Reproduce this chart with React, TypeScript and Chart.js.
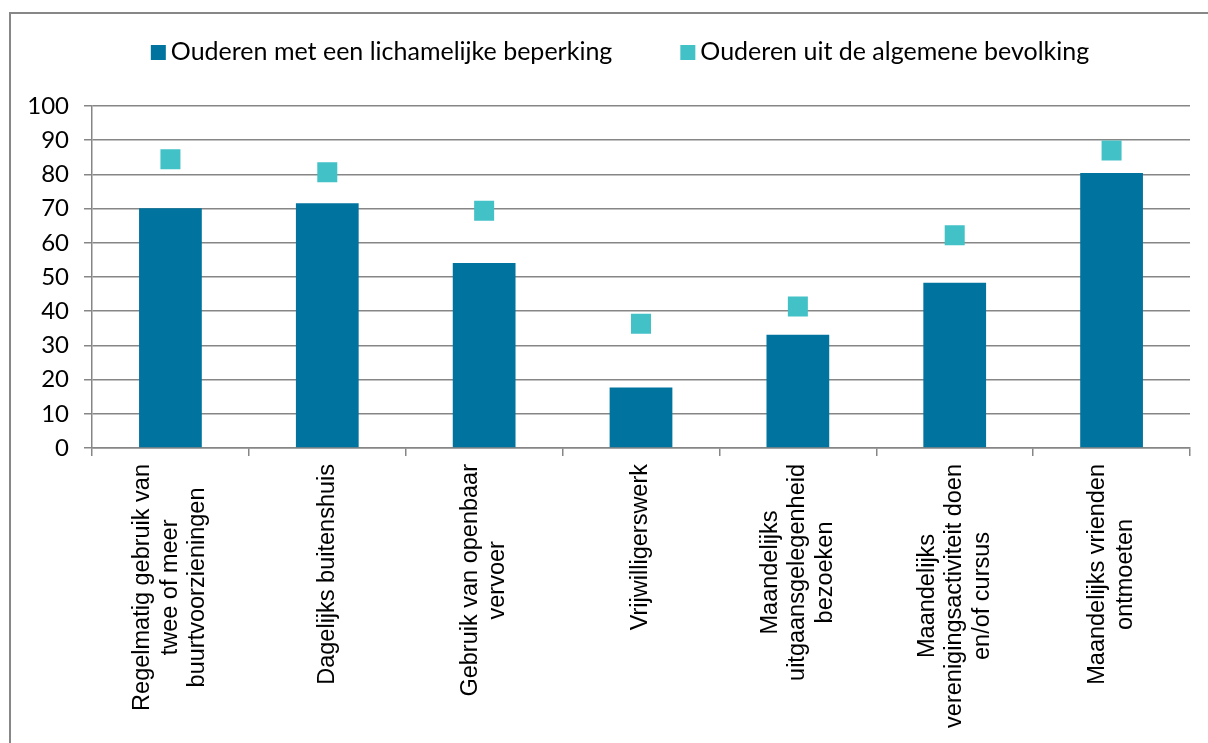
import React, { useEffect, useRef } from 'react';
import { Chart, registerables } from 'chart.js';

Chart.register(...registerables);

const categories: string[][] = [
  ['Regelmatig gebruik van', 'twee of meer', 'buurtvoorzieningen'],
  ['Dagelijks buitenshuis'],
  ['Gebruik van openbaar', 'vervoer'],
  ['Vrijwilligerswerk'],
  ['Maandelijks', 'uitgaansgelegenheid', 'bezoeken'],
  ['Maandelijks', 'verenigingsactiviteit doen', 'en/of cursus'],
  ['Maandelijks vrienden', 'ontmoeten'],
];

const seriesNames = ['Ouderen met een lichamelijke beperking', 'Ouderen uit de algemene bevolking'];

const physicalDisability = [70.1, 71.6, 54.1, 17.7, 33.1, 48.3, 80.4];
const generalPopulation = [84.4, 80.6, 69.4, 36.3, 41.4, 62.2, 87.0];

const yTickMin = 0;
const yTickMax = 100;
const yTickStep = 10;

const BAR_COLOR = '#00739F';
const POINT_COLOR = '#42C1C7';
const GRID_COLOR = '#868686';

const CANVAS_W = 1218;
const CANVAS_H = 729;

const legendPlugin = {
  id: 'customLegend',
  afterDraw(chart: any) {
    const ctx = chart.ctx as CanvasRenderingContext2D;
    ctx.save();
    ctx.font = '25px Lato, "Noto Sans", sans-serif';
    ctx.textAlign = 'left';
    ctx.textBaseline = 'alphabetic';
    const box = 15;
    const gap = 5;
    const itemGap = 68;
    const items = chart.data.datasets.map((d: any) => ({ label: d.label, color: d.backgroundColor }));
    const widths = items.map((it: any) => box + gap + ctx.measureText(it.label).width);
    const total = widths.reduce((a: number, b: number) => a + b, 0) + itemGap * (items.length - 1);
    let x = chart.width / 2 - total / 2;
    const baseline = 45.5;
    items.forEach((it: any, i: number) => {
      ctx.fillStyle = it.color;
      ctx.fillRect(x, 31, box, box);
      ctx.fillStyle = '#000';
      ctx.fillText(it.label, x + box + gap, baseline);
      x += widths[i] + itemGap;
    });
    ctx.restore();
  },
};

const xLabelPlugin = {
  id: 'xLabels',
  afterDraw(chart: any) {
    const ctx = chart.ctx as CanvasRenderingContext2D;
    const xs = chart.scales.x;
    ctx.save();
    ctx.font = '23.5px "Liberation Sans", Arial, sans-serif';
    ctx.fillStyle = '#000';
    ctx.textAlign = 'center';
    ctx.textBaseline = 'middle';
    const lineH = 27.5;
    categories.forEach((lines, i) => {
      const cx = xs.getPixelForTick(i);
      const maxW = Math.max(...lines.map((l) => ctx.measureText(l).width));
      const yc = xs.top + 16 + maxW / 2;
      lines.forEach((line, j) => {
        const lx = cx + (j - (lines.length - 1) / 2) * lineH;
        ctx.save();
        ctx.translate(lx, yc);
        ctx.rotate(-Math.PI / 2);
        ctx.fillText(line, 0, 0);
        ctx.restore();
      });
    });
    ctx.restore();
  },
};

export default function App() {
  const canvasRef = useRef<HTMLCanvasElement | null>(null);

  useEffect(() => {
    document.documentElement.style.overflow = 'hidden';
    document.body.style.overflow = 'hidden';
    if (!canvasRef.current) return;
    const chart = new Chart(canvasRef.current, {
      type: 'bar',
      data: {
        labels: categories.map((l) => l.join(' ')),
        datasets: [
          {
            type: 'bar',
            label: seriesNames[0],
            data: physicalDisability,
            backgroundColor: BAR_COLOR,
            borderWidth: 0,
            barPercentage: 0.4,
            categoryPercentage: 1,
            order: 2,
          } as any,
          {
            type: 'line',
            label: seriesNames[1],
            data: generalPopulation,
            showLine: false,
            pointStyle: 'rect',
            pointRadius: 14.14,
            pointHoverRadius: 14.14,
            backgroundColor: POINT_COLOR,
            borderColor: POINT_COLOR,
            pointBackgroundColor: POINT_COLOR,
            pointBorderWidth: 0,
            borderWidth: 0,
            order: 1,
          } as any,
        ],
      },
      options: {
        responsive: false,
        animation: false,
        layout: { padding: { top: 92, right: 39, left: 0, bottom: 0 } },
        plugins: {
          legend: { display: false },
          tooltip: { enabled: false },
        },
        scales: {
          x: {
            type: 'category',
            offset: true,
            grid: {
              offset: true,
              drawOnChartArea: false,
              drawTicks: true,
              tickLength: 8,
              color: GRID_COLOR,
              lineWidth: 1.5,
            },
            border: { display: true, color: GRID_COLOR, width: 1.5 },
            ticks: { display: false },
            afterFit: (s: any) => {
              s.height = CANVAS_H - 434;
            },
          },
          y: {
            min: yTickMin,
            max: yTickMax,
            ticks: {
              stepSize: yTickStep,
              padding: 15,
              color: '#000',
              font: { family: 'Lato, "Noto Sans", sans-serif', size: 24 },
            },
            grid: { color: GRID_COLOR, lineWidth: 1.5, tickLength: 8 },
            border: { display: true, color: GRID_COLOR, width: 1.5 },
            afterFit: (s: any) => {
              s.width = 81;
            },
          },
        },
      },
      plugins: [legendPlugin, xLabelPlugin],
    });
    return () => chart.destroy();
  }, []);

  return (
    <div
      style={{
        position: 'fixed',
        left: 9,
        top: 12,
        width: CANVAS_W,
        height: CANVAS_H + 10,
        border: '2px solid #878787',
        background: '#fff',
      }}
    >
      <canvas ref={canvasRef} width={CANVAS_W} height={CANVAS_H} style={{ display: 'block' }} />
    </div>
  );
}
